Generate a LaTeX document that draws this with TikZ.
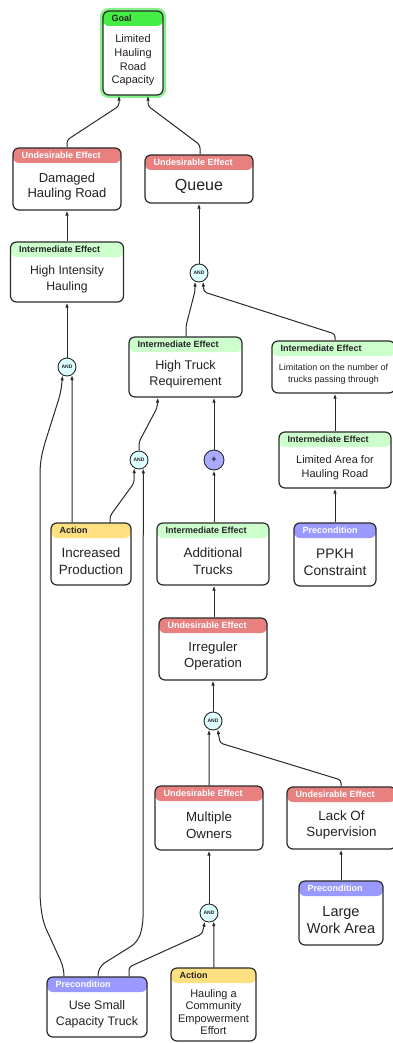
\documentclass[tikz,border=0pt]{standalone}
\usepackage{fontspec}
\setmainfont{Liberation Sans}
\usetikzlibrary{arrows.meta,calc}
\definecolor{uecol}{HTML}{E88080}
\definecolor{iecol}{HTML}{CCFFCC}
\definecolor{actcol}{HTML}{FFE080}
\definecolor{precol}{HTML}{9999FF}
\definecolor{goalcol}{HTML}{44EE44}
\definecolor{glowcol}{HTML}{88F088}
\definecolor{andcol}{HTML}{DDFFFF}
\definecolor{pluscol}{HTML}{AAAAFF}
\definecolor{edgecol}{HTML}{2A2A2A}
\definecolor{txtcol}{HTML}{222222}

\newcommand{\tocbox}[8]{%
  \node[tbox, #2, minimum width=#4pt, minimum height=#5pt] (#1) at (#3) {};
  \node[htext, #2 text] at ($(#1.north west)+(9,7.5)$) {#7};
  \node[btext, font=#6] at ($(#1.center)+(0,7.5)$) {#8};
}

\tikzset{
  hdr/.style={path picture={\fill[#1] (path picture bounding box.north west) rectangle ([yshift=-15pt]path picture bounding box.north east);}},
  tbox/.style={draw=edgecol, line width=1.2pt, rounded corners=6pt, fill=white, inner sep=0pt},
  kue/.style={hdr=uecol}, kue text/.style={text=white},
  kie/.style={hdr=iecol}, kie text/.style={text=txtcol},
  kact/.style={hdr=actcol}, kact text/.style={text=txtcol},
  kpre/.style={hdr=precol}, kpre text/.style={text=white},
  kgoal/.style={hdr=goalcol, preaction={draw=glowcol, line width=6pt}}, kgoal text/.style={text=txtcol},
  htext/.style={anchor=west, inner sep=0pt, font=\fontsize{9}{10}\bfseries},
  btext/.style={align=center, inner sep=0pt, text=txtcol},
  gate/.style={circle, draw=edgecol, line width=0.9pt, fill=andcol, minimum size=18pt, inner sep=0pt, font=\fontsize{5}{5}\selectfont\bfseries, text=txtcol},
  plusgate/.style={gate, fill=pluscol, minimum size=20pt, font=\fontsize{9}{9}\selectfont\bfseries},
  conn/.style={draw=edgecol, line width=1pt, -{Latex[length=5pt,width=3.6pt]}, rounded corners=3pt},
  soft/.style={conn, rounded corners=8pt}
}

\begin{document}
\begin{tikzpicture}[x=1pt,y=-1pt]
\fill[white] (0,0) rectangle (392,1043);
\useasboundingbox (0,0) rectangle (392,1043);

% boxes
\tocbox{goal}{kgoal}{133,53}{60}{84}{\fontsize{11}{13.7}\selectfont}{Goal}{Limited\\Hauling\\Road\\Capacity}
\tocbox{dmg}{kue}{67,179}{108}{62}{\fontsize{13}{15}\selectfont}{Undesirable Effect}{Damaged\\Hauling Road}
\tocbox{queue}{kue}{199,179}{108}{48}{\fontsize{16}{18}\selectfont}{Undesirable Effect}{Queue}
\tocbox{hih}{kie}{67,272}{113}{60}{\fontsize{12.2}{16}\selectfont}{Intermediate Effect}{High Intensity\\Hauling}
\tocbox{htr}{kie}{185.5,367}{113}{60}{\fontsize{12.6}{16}\selectfont}{Intermediate Effect}{High Truck\\Requirement}
\tocbox{lim}{kie}{333.5,367}{123}{52}{\fontsize{9}{12}\selectfont}{Intermediate Effect}{Limitation on the number of\\trucks passing through}
\tocbox{larea}{kie}{335,460}{112}{56}{\fontsize{11}{14}\selectfont}{Intermediate Effect}{Limited Area for\\Hauling Road}
\tocbox{incp}{kact}{91,554}{80}{62}{\fontsize{13.4}{17}\selectfont}{Action}{Increased\\Production}
\tocbox{addt}{kie}{213,554}{112}{62}{\fontsize{13.4}{17}\selectfont}{Intermediate Effect}{Additional\\Trucks}
\tocbox{ppkh}{kpre}{335,554.5}{82}{63}{\fontsize{13.8}{17}\selectfont}{Precondition}{PPKH\\Constraint}
\tocbox{irr}{kue}{213,649}{108}{62}{\fontsize{13.2}{16}\selectfont}{Undesirable Effect}{Irreguler\\Operation}
\tocbox{mo}{kue}{209,818}{108}{64}{\fontsize{13.3}{17}\selectfont}{Undesirable Effect}{Multiple\\Owners}
\tocbox{los}{kue}{341.5,818}{109}{62}{\fontsize{13.4}{16}\selectfont}{Undesirable Effect}{Lack Of\\Supervision}
\tocbox{lwa}{kpre}{341,913}{84}{64}{\fontsize{14.5}{17}\selectfont}{Precondition}{Large\\Work Area}
\tocbox{ust}{kpre}{97,1007}{100}{60}{\fontsize{12.4}{16}\selectfont}{Precondition}{Use Small\\Capacity Truck}
\tocbox{hcee}{kact}{213.5,1004.5}{85}{73}{\fontsize{11}{12.4}\selectfont}{Action}{Hauling a\\Community\\Empowerment\\Effort}

% gates
\node[gate] (and1) at (199,273) {AND};
\node[gate] (and2) at (67,367) {AND};
\node[gate] (and3) at (139,460) {AND};
\node[plusgate] (plus) at (214,460) {+};
\node[gate] (and4) at (213,721) {AND};
\node[gate] (and5) at (209,913) {AND};

% connectors
\draw[conn] (dmg.north) -- (67,140) -- (119,106) -- ([xshift=-14pt]goal.south);
\draw[conn] ([xshift=1pt]queue.north) -- (200,145) -- (148,106) -- ([xshift=15pt]goal.south);
\draw[conn] (hih.north) -- (dmg.south);
\draw[conn] (and1.north) -- (queue.south);
\draw[conn] ([xshift=0.5pt]htr.north) -- (186,326) -- (195,291) -- (and1.-115);
\draw[conn] ([xshift=1.5pt]lim.north) -- (335,334) -- (204,292) -- (and1.-65);
\draw[conn] (and2.north) -- (hih.south);
\draw[conn] ([xshift=-19pt]incp.north) -- (and2.-58);
\draw[soft] ([xshift=-33pt]ust.north) -- (64,968) -- (43,922) -- (40,900) -- (40,465) -- (43,449) -- (61,392) -- (and2.-118);
\draw[conn] (and3.north) -- (139,442) -- (157,408) -- ([xshift=-27.5pt]htr.south);
\draw[conn] ([xshift=19pt]incp.north) -- (110,516) -- (134,483) -- (and3.-120);
\draw[soft] ([xshift=1pt]ust.north) -- (98,967) -- (138,942) -- (143,925) -- (and3.-63);
\draw[conn] (plus.north) -- ([xshift=28.5pt]htr.south);
\draw[conn] ([xshift=1pt]addt.north) -- (plus.south);
\draw[conn] (larea.north) -- ([xshift=1.5pt]lim.south);
\draw[conn] (ppkh.north) -- (larea.south);
\draw[conn] ([xshift=1pt]irr.north) -- ([xshift=1pt]addt.south);
\draw[conn] (and4.north) -- (irr.south);
\draw[conn] (mo.north) -- (and4.-115);
\draw[conn] ([xshift=-0.5pt]los.north) -- (341,780) -- (220,743) -- (and4.-60);
\draw[conn] (lwa.north) -- ([xshift=-0.5pt]los.south);
\draw[conn] (and5.north) -- (mo.south);
\draw[conn] ([xshift=32pt]ust.north) -- (129,967) -- (202,934) -- (and5.-115);
\draw[conn] ([xshift=0.5pt]hcee.north) -- (and5.-60);
\end{tikzpicture}
\end{document}
